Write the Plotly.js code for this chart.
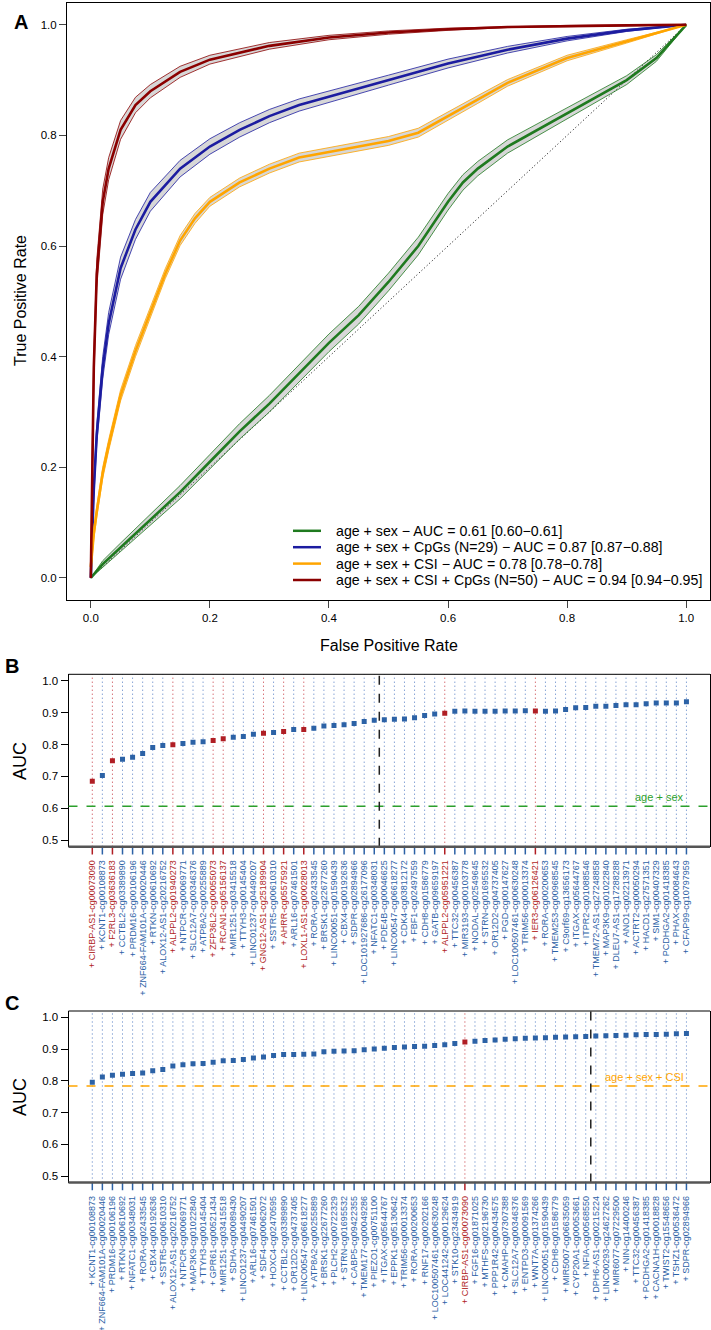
<!DOCTYPE html>
<html><head><meta charset="utf-8">
<script src="https://cdn.plot.ly/plotly-3.0.1.min.js"></script>
<style>body{margin:0;padding:0;background:#fff}#chart{width:711px;height:1330px}</style>
</head><body><div id="chart"></div>
<script>
// ---------- Panel A: ROC curves ----------
const gFpr = [0,0.02,0.05,0.1,0.15,0.2,0.25,0.3,0.35,0.4,0.45,0.5,0.55,0.6,0.625,0.65,0.7,0.75,0.8,0.85,0.9,0.95,1];
const gTpr = [0,0.025,0.055,0.105,0.155,0.21,0.265,0.315,0.37,0.425,0.475,0.535,0.6,0.68,0.715,0.74,0.78,0.81,0.84,0.87,0.9,0.94,1];
const gLo  = [0,0.019,0.047,0.095,0.143,0.197,0.251,0.300,0.355,0.409,0.459,0.519,0.584,0.665,0.701,0.727,0.768,0.799,0.830,0.861,0.892,0.934,1];
const gHi  = [0,0.031,0.063,0.115,0.167,0.223,0.279,0.330,0.385,0.441,0.491,0.551,0.616,0.695,0.729,0.753,0.792,0.821,0.850,0.879,0.908,0.946,1];

const bFpr = [0,0.002,0.005,0.01,0.02,0.03,0.05,0.075,0.1,0.15,0.2,0.25,0.3,0.35,0.4,0.5,0.6,0.7,0.8,0.9,1];
const bTpr = [0,0.08,0.16,0.26,0.38,0.46,0.56,0.63,0.68,0.74,0.78,0.81,0.835,0.855,0.87,0.9,0.93,0.955,0.975,0.99,1];
const bLo  = [0,0.07,0.145,0.242,0.36,0.44,0.54,0.612,0.663,0.725,0.766,0.797,0.823,0.844,0.86,0.891,0.922,0.949,0.971,0.988,1];
const bHi  = [0,0.09,0.175,0.278,0.40,0.48,0.58,0.648,0.697,0.755,0.794,0.823,0.847,0.866,0.88,0.909,0.938,0.961,0.979,0.992,1];

const oFpr = [0,0.005,0.01,0.02,0.03,0.05,0.075,0.1,0.125,0.15,0.175,0.2,0.25,0.3,0.35,0.4,0.45,0.5,0.55,0.6,0.65,0.7,0.8,0.9,1];
const oTpr = [0.02,0.08,0.12,0.19,0.24,0.33,0.41,0.48,0.55,0.61,0.65,0.68,0.715,0.74,0.76,0.77,0.78,0.79,0.805,0.835,0.865,0.895,0.94,0.97,1];
const oLo  = [0.01,0.07,0.11,0.18,0.23,0.32,0.40,0.471,0.541,0.601,0.641,0.672,0.707,0.732,0.752,0.762,0.772,0.782,0.797,0.827,0.858,0.889,0.935,0.967,1];
const oHi  = [0.03,0.09,0.13,0.20,0.25,0.34,0.42,0.489,0.559,0.619,0.659,0.688,0.723,0.748,0.768,0.778,0.788,0.798,0.813,0.843,0.872,0.901,0.945,0.973,1];

const rFpr = [0,0.002,0.005,0.01,0.02,0.03,0.05,0.075,0.1,0.15,0.2,0.3,0.4,0.5,0.6,0.7,0.8,0.9,1];
const rTpr = [0,0.2,0.38,0.55,0.68,0.74,0.81,0.855,0.88,0.915,0.937,0.962,0.977,0.986,0.992,0.996,0.998,0.999,1];
const rLo  = [0,0.18,0.355,0.525,0.657,0.72,0.793,0.841,0.868,0.905,0.929,0.956,0.973,0.983,0.99,0.995,0.997,0.999,1];
const rHi  = [0,0.22,0.405,0.575,0.703,0.76,0.827,0.869,0.892,0.925,0.945,0.968,0.981,0.989,0.994,0.997,0.999,1,1];

const rocNames = [
  "age + sex \u2212 AUC = 0.61 [0.60\u22120.61]",
  "age + sex + CpGs (N=29) \u2212 AUC = 0.87 [0.87\u22120.88]",
  "age + sex + CSI \u2212 AUC = 0.78 [0.78\u22120.78]",
  "age + sex + CSI + CpGs (N=50) \u2212 AUC = 0.94 [0.94\u22120.95]"
];
const rocColors = ["#1f7a1f", "#1c1ca0", "#ffa500", "#8b0000"];

// ---------- Panel B ----------
const bLabels = [
 "CIRBP-AS1-cg00073090","KCNT1-cg00108873","F2RL3-cg03636183","CCTBL2-cg03389890","PRDM16-cg00106196",
 "ZNF664-FAM101A-cg00020446","RTKN-cg00610692","ALOX12-AS1-cg20216752","ALPPL2-cg01940273","NTPCR-cg00069771",
 "SLC12A7-cg00346376","ATP8A2-cg00255889","ZFP36L2-cg00055073","RCAN1-cg05156137","MIR1251-cg03415518",
 "TTYH3-cg00145404","LINC01237-cg04490207","GNG12-AS1-cg25189904","SSTR5-cg00610310","AHRR-cg05575921",
 "ARL16-cg07461501","LOXL1-AS1-cg00028013","RORA-cg02433545","BRSK1-cg22677260","LINC00051-cg01590439",
 "CBX4-cg00192636","SDPR-cg02894966","LOC101927686-cg26177096","NFATC1-cg00348031","PDE4B-cg00046625",
 "LINC00547-cg06618277","CDK4-cg03812172","FBF1-cg02497559","CDH8-cg01586779","GATB-cg09659197",
 "ALPPL2-cg05951221","TTC32-cg00456387","MIR3193-cg00103778","NODAL-cg02549645","STRN-cg01695532",
 "OR12D2-cg04737405","PGD-cg00147627","LOC100507461-cg00630248","TRIM56-cg00013374","IER3-cg06126421",
 "RORA-cg00200653","TMEM253-cg00968545","C9orf69-cg13656173","ITGAX-cg05644767","ITPR2-cg01088546",
 "TMEM72-AS1-cg27248858","MAP3K9-cg01022840","DLEU7-AS1-cg17288288","ANO1-cg02213971","ACTRT2-cg00050294",
 "HACD1-cg27571351","SIM1-cg00407329","PCDHGA2-cg01418385","PHAX-cg00084643","CFAP99-cg10797959"
];
const bAuc = [
 0.685,0.703,0.749,0.754,0.760,0.772,0.791,0.797,0.799,0.803,
 0.807,0.809,0.813,0.818,0.823,0.825,0.832,0.835,0.838,0.841,
 0.847,0.847,0.851,0.858,0.860,0.862,0.866,0.872,0.876,0.878,
 0.879,0.880,0.884,0.891,0.896,0.898,0.904,0.905,0.904,0.904,
 0.904,0.905,0.905,0.906,0.905,0.904,0.905,0.910,0.915,0.916,
 0.920,0.920,0.922,0.925,0.925,0.928,0.930,0.930,0.930,0.934
];
const bRed = [1,0,1,0,0,0,0,0,1,0,0,0,1,1,0,0,0,1,0,1,0,1,0,0,0,0,0,0,0,0,0,0,0,0,0,1,0,0,0,0,0,0,0,0,1,0,0,0,0,0,0,0,0,0,0,0,0,0,0,0];
const bBaseline = 0.607, bBaselineLabel = "age + sex", bCpgN = 29;

// ---------- Panel C ----------
const cLabels = [
 "KCNT1-cg00108873","ZNF664-FAM101A-cg00020446","PRDM16-cg00106196","RTKN-cg00610692","NFATC1-cg00348031",
 "RORA-cg02433545","CBX4-cg00192636","SSTR5-cg00610310","ALOX12-AS1-cg20216752","NTPCR-cg00069771",
 "MAP3K9-cg01022840","TTYH3-cg00145404","GPR61-cg00521434","MIR1251-cg03415518","SDHA-cg00089430",
 "LINC01237-cg04490207","ARL16-cg07461501","SDF4-cg00062072","HOXC4-cg02470595","CCTBL2-cg03389890",
 "OR12D2-cg04737405","LINC00547-cg06618277","ATP8A2-cg00255889","BRSK1-cg22677260","PLCH2-cg00722329",
 "STRN-cg01695532","CABP5-cg09422355","TMEM177-cg00049286","PIEZO1-cg00751100","ITGAX-cg05644767",
 "EPPK1-cg05130642","TRIM56-cg00013374","RORA-cg00200653","RNF17-cg00202166","LOC100507461-cg00630248",
 "LOC441242-cg00129624","STK10-cg23434919","CIRBP-AS1-cg00073090","FGF16-cg01871025","MTHFS-cg02196730",
 "PPP1R42-cg00434575","CMAHP-cg07307388","SLC12A7-cg00346376","ENTPD3-cg00091569","WNT7A-cg01374266",
 "LINC00051-cg01590439","CDH8-cg01586779","MIR5007-cg06635059","CYP20A1-cg00053661","NFIA-cg00568550",
 "DPH6-AS1-cg00215224","LINC00293-cg24627262","MIR6077-cg07229500","NIN-cg14400246","TTC32-cg00456387",
 "PCDHGA2-cg01418385","CACNA1H-cg00018828","TWIST2-cg15548656","TSHZ1-cg00536472","SDPR-cg02894966"
];
const cAuc = [
 0.796,0.812,0.818,0.821,0.823,0.825,0.832,0.836,0.847,0.851,
 0.854,0.855,0.859,0.863,0.864,0.867,0.872,0.875,0.880,0.883,
 0.883,0.884,0.885,0.892,0.893,0.894,0.895,0.898,0.900,0.903,
 0.905,0.907,0.908,0.909,0.911,0.914,0.918,0.922,0.925,0.927,
 0.929,0.931,0.933,0.934,0.935,0.936,0.937,0.938,0.939,0.940,
 0.941,0.942,0.943,0.944,0.945,0.946,0.946,0.947,0.948,0.949
];
const cRed = cLabels.map(l => l === "CIRBP-AS1-cg00073090" ? 1 : 0);
const cBaseline = 0.784, cBaselineLabel = "age + sex + CSI", cCpgN = 50;

// ---------- styling ----------
const FONT = "Liberation Sans, Arial, Helvetica, sans-serif";
const BLUE = "#2c62a6", RED = "#b01e24";
const LINE_BLUE = "rgba(50,100,185,0.85)", LINE_RED = "rgba(190,30,40,0.9)";
const W = 711, H = 1330;
const px = x => x / W, py = y => 1 - y / H;

const traces = [];
traces.push({x:[0,1], y:[0,1], xaxis:'x', yaxis:'y', mode:'lines', line:{color:'#000', width:1, dash:'1px,2.5px'}, hoverinfo:'skip', showlegend:false});
const rocs = [[gFpr,gTpr,gLo,gHi],[bFpr,bTpr,bLo,bHi],[oFpr,oTpr,oLo,oHi],[rFpr,rTpr,rLo,rHi]];
rocs.forEach((r, k) => {
  const c = rocColors[k];
  traces.push({x:r[0], y:r[2], xaxis:'x', yaxis:'y', mode:'lines', line:{color:c, width:0.8}, showlegend:false, hoverinfo:'skip'});
  traces.push({x:r[0], y:r[3], xaxis:'x', yaxis:'y', mode:'lines', line:{color:c, width:0.8}, fill:'tonexty', fillcolor:'rgba(110,110,110,0.28)', showlegend:false, hoverinfo:'skip'});
  traces.push({x:r[0], y:r[1], xaxis:'x', yaxis:'y', mode:'lines', line:{color:c, width:2.6}, showlegend:false, name:rocNames[k]});
});

function catTrace(vals, red, xa, ya) {
  return {x: vals.map((v,i)=>i+1), y: vals, xaxis:xa, yaxis:ya, mode:'markers',
    marker:{symbol:'square', size:5, color: red.map(r => r ? RED : BLUE)}, showlegend:false, hoverinfo:'skip'};
}
traces.push(catTrace(bAuc, bRed, 'x2', 'y2'));
traces.push(catTrace(cAuc, cRed, 'x3', 'y3'));

const shapes = [], annotations = [];
rocNames.forEach((n, k) => {
  const yy = 530.8 + k * 16.4;
  shapes.push({type:'line', xref:'paper', yref:'paper', x0:px(293), x1:px(321), y0:py(yy), y1:py(yy), line:{color:rocColors[k], width:2.5}});
  annotations.push({xref:'paper', yref:'paper', x:px(334), y:py(yy), text:n, showarrow:false, xanchor:'left', yanchor:'middle', font:{family:FONT, size:14.2, color:'#000'}});
});

function catDecor(labels, red, xa, ya, baseline, blabel, bcolor, nCpg) {
  const xd = xa + ' domain', yd = ya + ' domain';
  labels.forEach((l, i) => {
    shapes.push({type:'line', xref:xa, yref:yd, x0:i+1, x1:i+1, y0:0, y1:1, line:{color: red[i] ? LINE_RED : LINE_BLUE, width:1, dash:'1px,3px'}, layer:'below'});
    shapes.push({type:'line', xref:xa, yref:yd, x0:i+1, x1:i+1, y0:-0.045, y1:0, line:{color: red[i] ? RED : BLUE, width:1.5}});
  });
  shapes.push({type:'line', xref:xd, yref:ya, x0:0, x1:1, y0:baseline, y1:baseline, line:{color:bcolor, width:1.5, dash:'dash'}});
  shapes.push({type:'line', xref:xa, yref:yd, x0:nCpg+0.5, x1:nCpg+0.5, y0:0, y1:1, line:{color:'#222', width:1.5, dash:'dash'}});
  shapes.push({type:'line', xref:xd, yref:yd, x0:0, x1:1, y0:1, y1:1, line:{color:'#000', width:1}});
  shapes.push({type:'line', xref:xd, yref:yd, x0:0, x1:1, y0:0, y1:0, line:{color:'#555', width:2.5}});
  annotations.push({xref:xa, yref:ya, x:labels.length, y:baseline, text:blabel, showarrow:false, xanchor:'right', yanchor:'bottom', yshift:1, font:{family:FONT, size:11, color:bcolor}});
}
catDecor(bLabels, bRed, 'x2', 'y2', bBaseline, bBaselineLabel, '#2ca02c', bCpgN);
catDecor(cLabels, cRed, 'x3', 'y3', cBaseline, cBaselineLabel, '#ffa500', cCpgN);

const titleFont = {family:FONT, size:16, color:'#000'};
annotations.push({xref:'paper', yref:'paper', x:px(389), y:py(645), text:'False Positive Rate', showarrow:false, xanchor:'center', yanchor:'middle', font:titleFont});
annotations.push({xref:'paper', yref:'paper', x:px(20), y:py(301), text:'True Positive Rate', textangle:-90, showarrow:false, xanchor:'center', yanchor:'middle', font:titleFont});
annotations.push({xref:'paper', yref:'paper', x:px(20), y:py(761), text:'AUC', textangle:-90, showarrow:false, xanchor:'center', yanchor:'middle', font:{family:FONT, size:18, color:'#000'}});
annotations.push({xref:'paper', yref:'paper', x:px(20), y:py(1097), text:'AUC', textangle:-90, showarrow:false, xanchor:'center', yanchor:'middle', font:{family:FONT, size:18, color:'#000'}});
const letterFont = {family:FONT, size:20, color:'#000'};
annotations.push({xref:'paper', yref:'paper', x:px(21), y:py(22), text:'<b>A</b>', showarrow:false, xanchor:'center', yanchor:'middle', font:letterFont});
annotations.push({xref:'paper', yref:'paper', x:px(12), y:py(666), text:'<b>B</b>', showarrow:false, xanchor:'center', yanchor:'middle', font:letterFont});
annotations.push({xref:'paper', yref:'paper', x:px(12), y:py(1003), text:'<b>C</b>', showarrow:false, xanchor:'center', yanchor:'middle', font:letterFont});

const tickF = {family:FONT, size:11.5, color:'#000'};
function catAxis(labels, red, domainY) {
  return {
    x: {domain:[px(68.5), px(710)], range:[-1.363, 62.34], tickvals: labels.map((l,i)=>i+1),
        ticktext: labels.map((l,i)=>'<span style="color:' + (red[i]?RED:BLUE) + '">+ ' + l + '</span>'),
        tickangle:-90, ticks:'outside', ticklen:9, tickcolor:'rgba(0,0,0,0)', showgrid:false, zeroline:false, showline:false,
        tickfont:{family:FONT, size:9, color:BLUE}, fixedrange:true},
    y: {domain:domainY, range:[0.48, 1.02], tickvals:[0.5,0.6,0.7,0.8,0.9,1.0], ticktext:['0.5','0.6','0.7','0.8','0.9','1.0'],
        ticks:'outside', ticklen:7, tickcolor:'#000', showline:true, linecolor:'#000', linewidth:1, mirror:true,
        showgrid:false, zeroline:false, tickfont:tickF}
  };
}
const axB = catAxis(bLabels, bRed, [py(846.7), py(674.3)]);
const axC = catAxis(cLabels, cRed, [py(1182.5), py(1011)]);

const layout = {
  width:W, height:H, margin:{l:0, r:0, t:0, b:0}, paper_bgcolor:'#fff', plot_bgcolor:'#fff', showlegend:false,
  font:{family:FONT},
  xaxis:{domain:[px(67), px(710)], range:[-0.04,1.04], tickvals:[0,0.2,0.4,0.6,0.8,1], ticktext:['0.0','0.2','0.4','0.6','0.8','1.0'],
    ticks:'outside', ticklen:7, showline:true, mirror:true, linecolor:'#000', linewidth:1, showgrid:false, zeroline:false, tickfont:tickF, anchor:'y'},
  yaxis:{domain:[py(600), py(2.7)], range:[-0.04,1.04], tickvals:[0,0.2,0.4,0.6,0.8,1], ticktext:['0.0','0.2','0.4','0.6','0.8','1.0'],
    ticks:'outside', ticklen:7, showline:true, mirror:true, linecolor:'#000', linewidth:1, showgrid:false, zeroline:false, tickfont:tickF, anchor:'x'},
  xaxis2: Object.assign(axB.x, {anchor:'y2'}), yaxis2: Object.assign(axB.y, {anchor:'x2'}),
  xaxis3: Object.assign(axC.x, {anchor:'y3'}), yaxis3: Object.assign(axC.y, {anchor:'x3'}),
  shapes, annotations
};
Plotly.newPlot('chart', traces, layout, {staticPlot:true, displayModeBar:false});
</script></body></html>
